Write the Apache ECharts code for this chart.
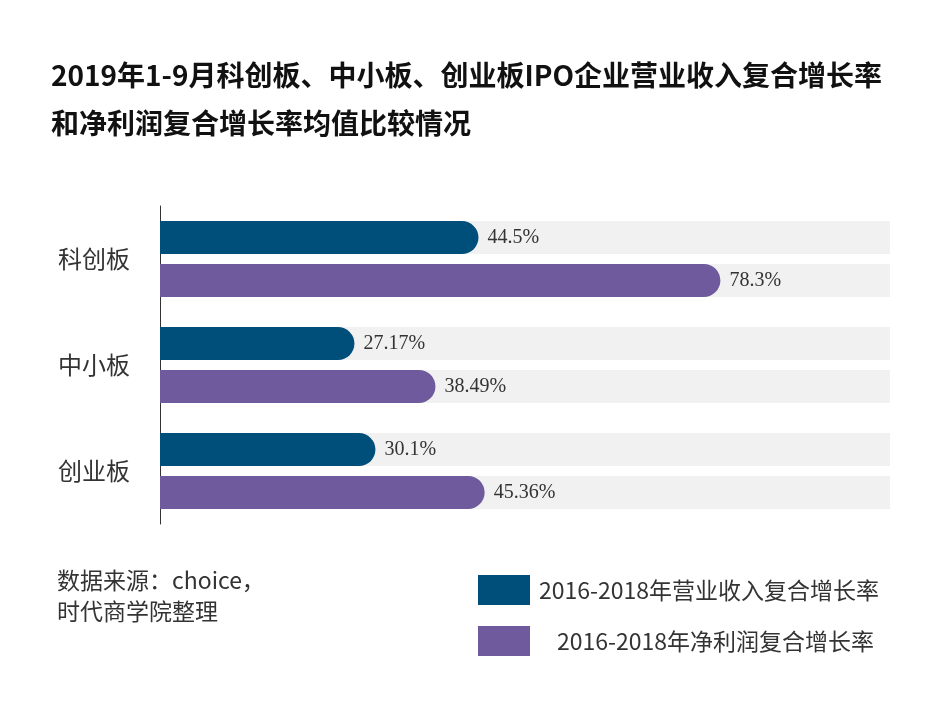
<!DOCTYPE html>
<html><head><meta charset="utf-8">
<script src="https://cdn.jsdelivr.net/npm/echarts@6/dist/echarts.min.js"></script>
<style>html,body{margin:0;background:#fff}#c{width:938px;height:714px}</style>
</head><body><div id="c"></div>
<script>
const categories = ['科创板', '中小板', '创业板'];
const revenueGrowth = [44.5, 27.17, 30.1];
const profitGrowth = [78.3, 38.49, 45.36];
const revenueLabels = ['44.5%', '27.17%', '30.1%'];
const profitLabels = ['78.3%', '38.49%', '45.36%'];
const seriesNames = ['2016-2018年营业收入复合增长率', '2016-2018年净利润复合增长率'];

const chart = echarts.init(document.getElementById('c'));
const mk = (name, vals, labs, color) => ({
  name, type: 'bar', data: vals, barWidth: 33, barGap: '30%',
  itemStyle: { color, borderRadius: [0, 17, 17, 0] },
  showBackground: true, backgroundStyle: { color: '#f1f1f1' },
  label: { show: true, position: 'right', distance: 9, formatter: p => labs[p.dataIndex],
    fontFamily: 'Liberation Serif', fontSize: 20, color: '#333' }
});
chart.setOption({
  animation: false,
  title: { text: '2019年1-9月科创板、中小板、创业板IPO企业营业收入复合增长率\n和净利润复合增长率均值比较情况', left: 46, top: 46,
    textStyle: { fontSize: 28, fontWeight: 'bold', color: '#111', lineHeight: 48, fontFamily: 'Noto Sans CJK SC' } },
  graphic: [{ type: 'text', left: 57, top: 565, style: { text: '数据来源：choice，\n时代商学院整理', fontSize: 23, lineHeight: 31, fill: '#333', fontFamily: 'Noto Sans CJK SC' } }],
  legend: { orient: 'vertical', left: 473, top: 570, itemWidth: 52, itemHeight: 30, itemGap: 21, icon: 'rect',
    formatter: n => n === seriesNames[1] ? '{p|}' + n : n,
    textStyle: { fontSize: 23, color: '#333', fontFamily: 'Noto Sans CJK SC', padding: [0, 0, 0, 4],
      rich: { p: { width: 18 } } } },
  grid: { left: 160, right: 48, top: 206, bottom: 190 },
  xAxis: { type: 'value', min: 0, max: 102, show: false },
  yAxis: { type: 'category', data: categories, inverse: true,
    axisLine: { show: true, lineStyle: { color: '#333' } }, axisTick: { show: false },
    axisLabel: { fontSize: 24, color: '#333', margin: 30, fontFamily: 'Noto Sans CJK SC' } },
  series: [mk(seriesNames[0], revenueGrowth, revenueLabels, '#004e7a'), mk(seriesNames[1], profitGrowth, profitLabels, '#6e5a9c')]
});
</script></body></html>
